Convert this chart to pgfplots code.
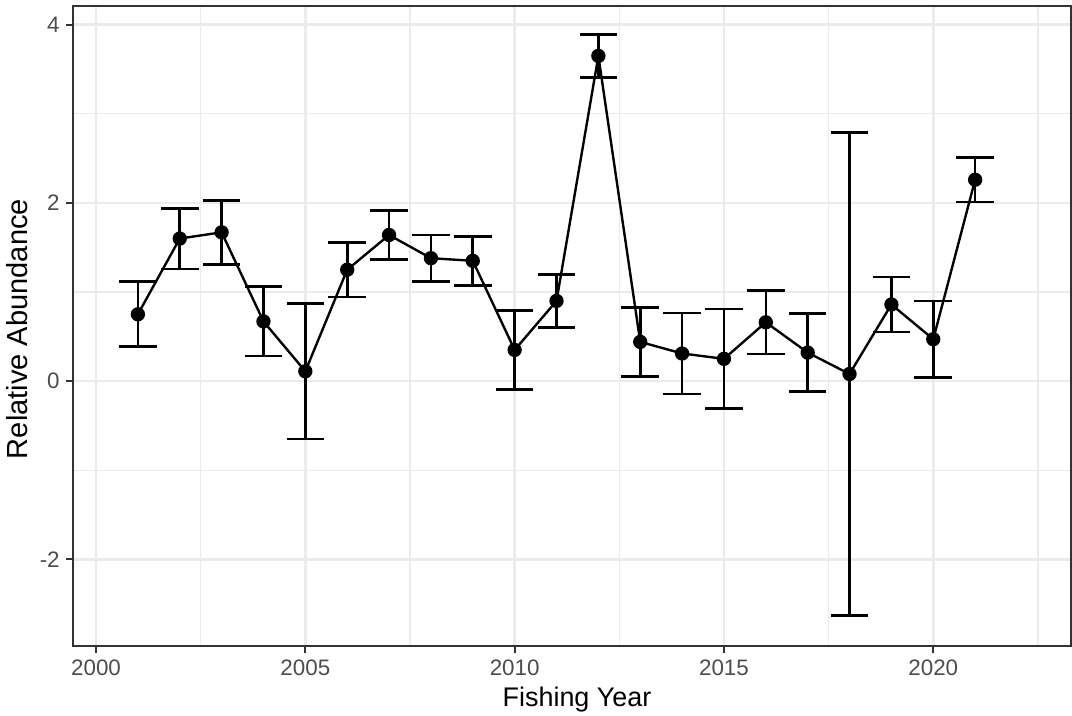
\documentclass[border=0pt]{standalone}
\usepackage{pgfplots}
\pgfplotsset{compat=1.18}
\usepackage{fontspec}
\setmainfont{Liberation Sans}
\definecolor{gridc}{HTML}{EBEBEB}
\definecolor{tickc}{HTML}{4D4D4D}
\definecolor{borderc}{HTML}{333333}
\begin{document}
\begin{tikzpicture}
\useasboundingbox (-30.66pt,-29.1pt) rectangle (419.58pt,271.2pt);
\begin{axis}[
  at={(0pt,0pt)}, anchor=south west,
  scale only axis, width=419.16pt, height=268.67pt,
  xmin=1999.45, xmax=2023.29, ymin=-2.97, ymax=4.21,
  xtick={2000,2005,2010,2015,2020},
  xticklabels={2000,2005,2010,2015,2020},
  ytick={-2,0,2,4},
  yticklabels={-2,0,2,4},
  minor xtick={2002.5,2007.5,2012.5,2017.5,2022.5},
  minor ytick={-1,1,3},
  grid=both,
  major grid style={gridc, line width=1.1pt},
  minor grid style={gridc, line width=0.55pt},
  minor tick length=0pt,
  major tick length=2.9pt,
  tick align=outside,
  xtick pos=bottom, ytick pos=left,
  tick style={borderc, line width=0.8pt},
  axis line style={borderc, line width=0.8pt},
  ticklabel style={font=\fontsize{9.4pt}{11pt}\selectfont, text=tickc},
  xticklabel style={anchor=base, inner sep=0pt, yshift=-9.8pt},
  yticklabel style={anchor=east, inner sep=0pt, xshift=-2.5pt},
  xlabel={Fishing Year},
  ylabel={Relative Abundance},
  xlabel style={font=\fontsize{11.3pt}{13pt}\selectfont, text=black, at={(axis description cs:0.505,-0.0958)}, anchor=base},
  ylabel style={font=\fontsize{12.2pt}{14pt}\selectfont, text=black, at={(axis description cs:-0.0451,0.495)}, anchor=base, rotate=0},
]
\addplot[black, line width=1pt, mark=*, mark size=2.5pt,
  error bars/.cd, y dir=both, y explicit,
  error bar style={line width=1.1pt, black},
  error mark options={rotate=90, line width=1.1pt, black, mark size=7.9pt}]
  table[x=x, y=y, y error=e] {
x y e
2001 0.75 0.365
2002 1.60 0.34
2003 1.67 0.36
2004 0.67 0.39
2005 0.11 0.76
2006 1.25 0.305
2007 1.64 0.275
2008 1.38 0.26
2009 1.35 0.275
2010 0.35 0.445
2011 0.90 0.30
2012 3.65 0.24
2013 0.44 0.385
2014 0.31 0.455
2015 0.25 0.56
2016 0.66 0.355
2017 0.32 0.44
2018 0.08 2.71
2019 0.86 0.31
2020 0.47 0.43
2021 2.26 0.25
};
\end{axis}
\end{tikzpicture}
\end{document}
